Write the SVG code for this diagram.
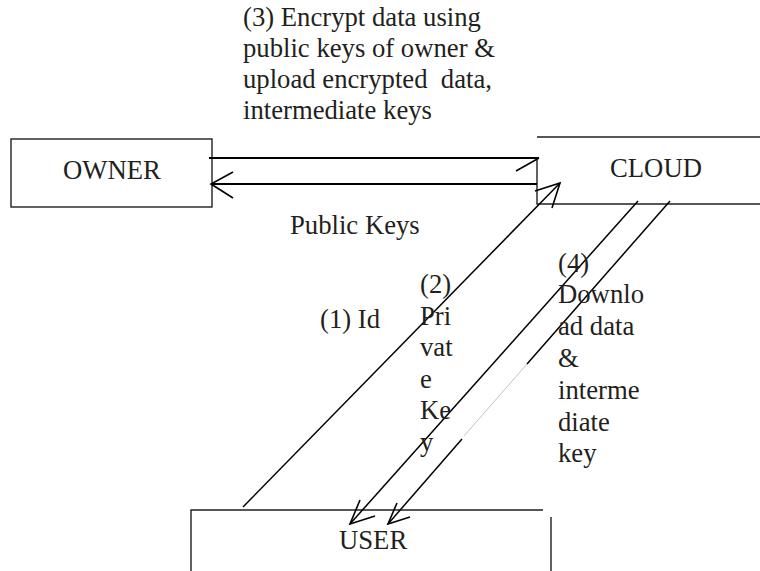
<svg xmlns="http://www.w3.org/2000/svg" width="760" height="571" viewBox="0 0 760 571">
  <style>
    text { font-family: "Liberation Serif", "Times New Roman", serif; font-size: 26.7px; fill: #231f20; }
    .box { fill: none; stroke: #231f20; stroke-width: 1.4; }
    .flow { fill: none; stroke: #000; stroke-width: 2.2; }
    .diag { fill: none; stroke: #000; stroke-width: 1.5; }
    .head { fill: none; stroke: #000; stroke-width: 1.6; stroke-linejoin: miter; }
    .faint { fill: none; stroke: #9a9a9a; stroke-width: 0.6; }
  </style>

  <rect width="760" height="571" fill="#fff"/>

  <!-- Nodes -->
  <g id="owner">
    <rect class="box" x="11" y="139" width="201" height="68"/>
    <text x="63" y="179">OWNER</text>
  </g>

  <g id="cloud">
    <path class="box" d="M537,137 H760 M537,158 V204 H760"/>
    <text x="610" y="177">CLOUD</text>
  </g>

  <g id="user">
    <path class="box" d="M191,571 V510 H543 M551,517 V571"/>
    <text x="339" y="549">USER</text>
  </g>

  <!-- Connectors -->
  <g id="connectors">
    <!-- owner to cloud: encrypted upload -->
    <path class="flow" d="M209,158 H539"/>
    <path class="head" d="M516,171 L539,158"/>
    <!-- cloud to owner: public keys -->
    <path class="flow" d="M537,184 H212"/>
    <path class="head" d="M233,172 L211,184 L233,198"/>
    <!-- user to cloud: id -->
    <path class="diag" d="M243,507 L560,183"/>
    <path class="head" d="M535,191 L560,183 L552,208"/>
    <!-- cloud to user: private key -->
    <path class="diag" d="M638,201 L350,524"/>
    <path class="head" d="M360,500 L350,524 L375,516"/>
    <!-- cloud to user: data and intermediate key -->
    <path class="diag" d="M670,201 L527,364"/>
    <path class="faint" d="M527,364 L464,436"/>
    <path class="diag" d="M462,439 L388,524"/>
    <path class="head" d="M397,503 L388,524 L410,517"/>
  </g>

  <!-- Labels -->
  <g id="labels">
    <text x="243" y="26">(3) Encrypt data using<tspan x="243" dy="31">public keys of owner &amp;</tspan><tspan x="243" dy="31">upload encrypted&#160; data,</tspan><tspan x="243" dy="31">intermediate keys</tspan></text>
    <text x="290" y="234">Public Keys</text>
    <text x="320" y="328">(1) Id</text>
    <text x="420" y="293">(2)<tspan x="420" dy="31.5">Pri</tspan><tspan x="420" dy="31.5">vat</tspan><tspan x="420" dy="31.5">e</tspan><tspan x="420" dy="31.5">Ke</tspan><tspan x="420" dy="31.5">y</tspan></text>
    <text x="558" y="271.5">(4)<tspan x="558" dy="31.8">Downlo</tspan><tspan x="558" dy="31.8">ad data</tspan><tspan x="558" dy="31.8">&amp;</tspan><tspan x="558" dy="31.8">interme</tspan><tspan x="558" dy="31.8">diate</tspan><tspan x="558" dy="31.8">key</tspan></text>
  </g>
</svg>
